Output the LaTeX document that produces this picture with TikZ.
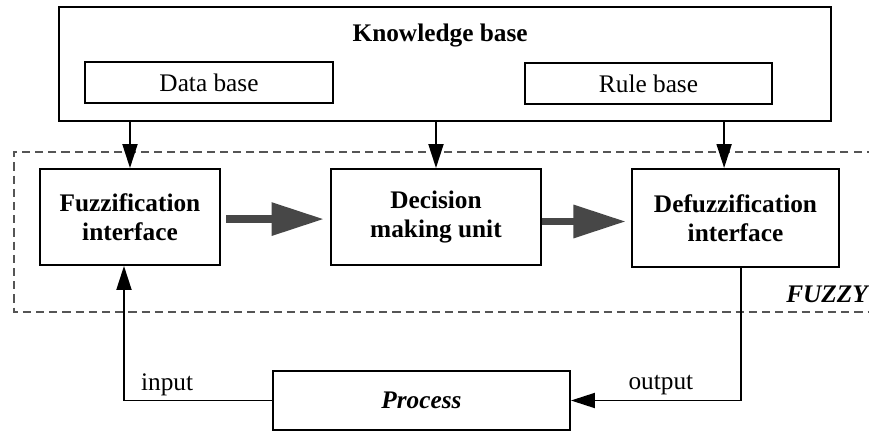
\documentclass[tikz,border=0pt]{standalone}
\usepackage{fontspec}
\setmainfont{Liberation Serif}
\usetikzlibrary{positioning,arrows.meta}
\definecolor{fzGris}{HTML}{474747}
\definecolor{fzRaya}{HTML}{555555}
\tikzset{
  bloque/.style={rectangle, draw=black, line width=1.8pt, fill=white,
    align=center, inner sep=0pt, font=\fontsize{24}{28}\selectfont\bfseries},
  sub/.style={bloque, font=\fontsize{24}{28}\selectfont},
  etiqueta/.style={font=\fontsize{24}{28}\selectfont},
  flecha/.style={-{Triangle[length=0.8cm,width=0.5cm]}, line width=1.8pt},
  flechaGruesa/.style={-{Triangle[length=1.75cm,width=1.05cm]}, line width=0.26cm, fzGris},
  marco/.style={dash pattern=on 0.27cm off 0.17cm, line width=1.6pt, fzRaya},
}

\begin{document}
\begin{tikzpicture}
    \useasboundingbox (0,0) rectangle (28.967,-14.4);
    % knowledge base
    \node[bloque, minimum width=25.73cm, minimum height=3.8cm] (kb) at (14.833,-2.133) {};
    \node[etiqueta, font=\fontsize{24}{28}\selectfont\bfseries] (kbtit) at (14.67,-1.2) {Knowledge base};
    \node[sub, minimum width=8.27cm, minimum height=1.37cm] (dat) at (6.967,-2.75) {Data base};
    \node[sub, minimum width=8.23cm, minimum height=1.37cm] (reg) at (21.617,-2.783) {Rule base};
    % fuzzy frame
    \draw[marco] (29.6,-5.067) -- (0.467,-5.067) -- (0.467,-10.4) -- (29.6,-10.4);
    \node[etiqueta, font=\fontsize{24}{28}\selectfont\bfseries\itshape, anchor=east] (fzy) at (29.05,-9.8) {FUZZY};
    \node[bloque, minimum width=6cm, minimum height=3.2cm] (fuz) at (4.333,-7.233) {Fuzzification\\interface};
    \node[bloque, minimum width=7cm, minimum height=3.2cm] (dec) at (14.533,-7.233) {Decision\\making unit};
    \node[bloque, minimum width=6.9cm, minimum height=3.27cm] (def) at (24.517,-7.267) {Defuzzification\\interface};
    % process
    \node[bloque, minimum width=9.9cm, minimum height=1.97cm, font=\fontsize{24}{28}\selectfont\bfseries\itshape] (pro) at (14.05,-13.35) {Process};
    \node[etiqueta] (ent) at (5.57,-12.82) {input};
    \node[etiqueta] (sal) at (22.03,-12.85) {output};
    % arrows
    \coordinate (defin) at ([xshift=-0.38cm]def.north);
    \draw[flecha] (kb.south -| fuz.north) -- (fuz.north);
    \draw[flecha] (kb.south -| dec.north) -- (dec.north);
    \draw[flecha] (defin |- kb.south) -- (defin);
    \coordinate (a1) at ([yshift=-0.07cm]fuz.east);
    \coordinate (a2) at ([yshift=-0.15cm]dec.east);
    \draw[flechaGruesa, shorten <=0.17cm, shorten >=0.2cm] (a1) -- (a1 -| dec.west);
    \draw[flechaGruesa, shorten >=0.17cm] (a2) -- (a2 -| def.west);
    \draw[flecha] ([xshift=0.17cm]def.south) |- (pro.east);
    \draw[flecha] (pro.west) -| ([xshift=-0.2cm]fuz.south);
\end{tikzpicture}
\end{document}
